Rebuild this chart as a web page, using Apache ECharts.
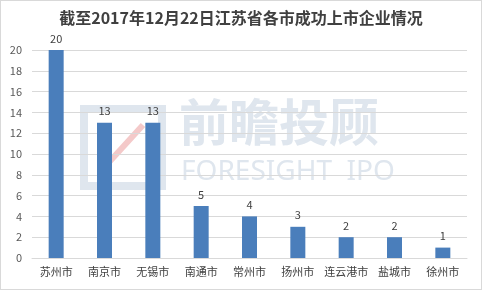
<!DOCTYPE html>
<html><head><meta charset="utf-8">
<script src="https://cdn.jsdelivr.net/npm/echarts@6/dist/echarts.min.js"></script>
<style>html,body{margin:0;padding:0;background:#fff}#c{width:482px;height:290px;box-sizing:border-box;border:1px solid #d9d9d9}</style>
</head><body><div id="c"></div>
<script>
var titleText = '截至2017年12月22日江苏省各市成功上市企业情况';
var categories = ['苏州市','南京市','无锡市','南通市','常州市','扬州市','连云港市','盐城市','徐州市'];
var values = [20,13,13,5,4,3,2,2,1];
var yTicks = [0,2,4,6,8,10,12,14,16,18,20];

var chart = echarts.init(document.getElementById('c'), null, {renderer:'canvas'});
var font = '"Noto Sans CJK SC", "Noto Sans", sans-serif';
chart.setOption({
  animation:false,
  title:{text:titleText,left:'center',top:4,textStyle:{fontFamily:font,fontSize:16,fontWeight:'bold',color:'#404040'}},
  graphic:[
    {type:'rect',z:-1,shape:{x:83,y:108,width:78,height:77},style:{fill:'none',stroke:'#dfe6ee',lineWidth:8}},
    {type:'line',z:-1,shape:{x1:100,y1:170,x2:142,y2:124},style:{stroke:'#f4c9c9',lineWidth:6}},
    {type:'text',z:-1,left:178,top:96,style:{text:'前瞻投顾',font:'bold 50px "Noto Sans CJK SC"',fill:'#dfe6ee'}},
    {type:'text',z:-1,left:180,top:157,style:{text:'FORESIGHT  IPO',font:'28px "Noto Sans", sans-serif',fill:'#dfe6ee'}}
  ],
  grid:{left:31,right:14,top:49,bottom:31,containLabel:false},
  xAxis:{type:'category',data:categories,
    axisLine:{lineStyle:{color:'#d9d9d9'}},axisTick:{show:false},
    axisLabel:{fontFamily:font,fontSize:11,color:'#404040',margin:8,interval:0}},
  yAxis:{type:'value',min:yTicks[0],max:yTicks[yTicks.length-1],interval:2,
    axisLine:{show:false},axisTick:{show:false},
    splitLine:{lineStyle:{color:'#d9d9d9'}},
    axisLabel:{fontFamily:font,fontSize:11,color:'#595959',margin:10}},
  series:[{type:'bar',data:values,barWidth:15,
    itemStyle:{color:'#4a7ebb'},
    label:{show:true,position:'top',distance:6,fontFamily:font,fontSize:11,color:'#404040'}}]
});
</script></body></html>
